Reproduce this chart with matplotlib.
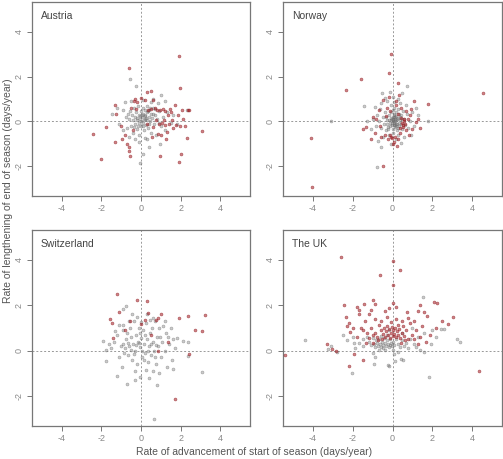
import matplotlib
matplotlib.use("Agg")
import matplotlib.pyplot as plt

plt.rcParams['font.family'] = ['Liberation Sans', 'DejaVu Sans']

panels = ["Austria", "Norway", "Switzerland", "The UK"]
x_ticks = [-4, -2, 0, 2, 4]
y_ticks = [-2, 0, 2, 4]

austria_gray = [(-0.55,1.9),(-0.23,1.56),(0.41,-1.14),(-0.07,-1.84),(0.08,-1.44),(-1.44,0.34),(-1.1,-0.1),(-0.9,0.5),(-0.75,0.2),(-0.7,-0.3),(-0.6,0.1),(-0.55,0.45),(-0.5,-0.2),(-0.45,0.3),(-0.4,0.05),(-0.38,-0.5),(-0.35,0.6),(-0.3,0.2),(-0.28,-0.1),(-0.25,0.4),(-0.2,-0.35),(-0.18,0.15),(-0.15,0.7),(-0.12,-0.05),(-0.1,0.3),(-0.08,-0.6),(-0.05,0.1),(0.0,0.45),(0.02,-0.2),(0.05,0.2),(0.08,0.6),(0.1,-0.05),(0.12,0.35),(0.15,-0.4),(0.18,0.1),(0.2,0.5),(0.22,0.25),(0.25,-0.15),(0.28,0.4),(0.3,0.05),(0.32,0.7),(0.35,-0.3),(0.38,0.2),(0.4,0.5),(0.45,0.0),(0.48,0.35),(0.5,-0.5),(0.55,0.15),(0.6,0.6),(0.65,-0.1),(0.7,0.3),(0.75,-0.6),(0.8,0.1),(0.9,0.45),(1.0,-0.2),(1.1,0.2),(1.2,-0.4),(1.3,0.4),(1.5,-0.05),(1.0,1.2),(0.6,1.0),(-0.3,-0.8),(-0.6,-0.7),(0.2,-0.75),(0.3,-0.8),(-0.1,-0.9),(0.95,-1.0),(-0.9,-0.4),(-1.2,0.6),(-0.8,0.85),(-0.5,0.9),(0.1,0.95),(0.5,0.85),(0.85,0.8),(1.2,0.9),(0.15,0.05),(0.05,0.3),(-0.05,0.25),(0.25,0.15),(0.35,0.45),(-0.2,0.05),(0.1,-0.2),(0.4,-0.1),(0.6,0.35),(-0.35,-0.25),(0.7,0.55),(-0.65,0.35),(0.9,-0.05),(1.6,0.3),(1.8,-0.1),(2.3,0.5),(0.0,0.0),(0.2,0.3),(-0.15,-0.2),(0.45,0.6)]
austria_red = [(1.92,2.93),(-0.6,2.4),(1.98,1.5),(-2.4,-0.55),(-2.0,-1.67),(1.9,-1.82),(2.03,-1.47),(3.06,-0.44),(2.3,-0.73),(2.35,0.5),(0.98,-1.53),(-0.61,-1.14),(-0.6,-1.32),(-0.55,-1.53),(-1.3,-0.9),(-1.77,-0.25),(-1.3,0.75),(-1.24,0.34),(-0.3,1.0),(-0.2,0.85),(0.0,1.05),(0.3,1.3),(0.5,1.35),(0.2,0.95),(0.7,0.6),(0.8,0.5),(0.95,0.5),(1.1,0.55),(1.2,0.45),(1.35,0.3),(1.5,0.4),(1.7,0.75),(1.85,0.3),(2.05,0.5),(2.2,-0.2),(2.1,0.1),(1.95,-0.2),(1.6,-0.3),(1.4,-0.1),(1.2,-0.15),(1.05,-0.05),(0.9,-0.1),(1.0,-0.6),(0.85,-0.55),(1.25,-0.8),(0.55,-0.7),(0.6,-0.25),(1.75,-0.15),(1.15,0.05),(0.5,0.55),(0.35,0.5),(-0.25,0.55),(-0.5,0.6),(-0.8,-0.6),(-1.0,-0.2),(-0.95,-0.8),(-0.4,-0.4),(-0.7,-1.0),(0.3,-0.1),(0.6,0.95),(-0.35,0.9),(1.45,0.55),(1.3,-0.45),(2.4,0.5),(1.55,0.05),(0.75,0.05)]

norway_gray = [(-3.09,0),(-0.8,-2.03),(1.76,0),(0.72,1.59),(-0.57,-1.14),(-1.45,0.67),(0.0,0.0),(0.05,0.1),(0.1,-0.05),(0.15,0.2),(-0.05,-0.15),(0.2,0.05),(0.08,0.3),(-0.1,0.15),(0.12,-0.25),(0.25,-0.1),(-0.15,-0.05),(0.3,0.15),(0.02,-0.35),(-0.2,0.3),(0.18,0.4),(0.35,-0.2),(-0.25,-0.25),(0.4,0.05),(0.05,0.5),(-0.3,0.05),(0.22,-0.4),(0.45,0.3),(-0.35,-0.4),(0.1,0.6),(-0.4,0.4),(0.5,-0.35),(0.28,0.55),(-0.45,-0.1),(0.6,0.1),(-0.5,0.2),(0.0,-0.5),(0.55,0.45),(-0.6,-0.3),(0.65,-0.15),(-0.1,0.75),(0.3,-0.6),(-0.65,0.55),(0.75,0.35),(-0.7,0.0),(0.8,-0.3),(-0.2,-0.6),(0.1,0.85),(-0.8,0.3),(0.9,0.0),(-0.85,-0.2),(0.4,0.8),(-0.3,0.9),(0.2,-0.8),(-0.5,-0.7),(0.6,-0.7),(1.0,0.4),(-1.0,0.1),(0.05,1.1),(-0.4,1.05),(0.3,1.0),(-0.6,0.8),(0.7,0.75),(-0.9,0.65),(1.1,-0.2),(-1.1,-0.35),(0.5,1.25),(-0.15,1.3),(-0.55,1.25),(0.45,-0.95),(-0.1,-1.0),(0.15,-0.15),(0.07,0.22),(-0.07,0.05),(0.2,0.25),(0.12,0.12),(-0.02,-0.08),(0.25,0.1),(0.03,0.18),(-0.12,-0.2),(0.32,-0.05),(0.17,-0.1),(0.08,-0.18),(-0.18,0.08),(0.38,0.22),(0.1,0.35),(-0.08,0.4),(0.28,-0.28),(-0.28,-0.12),(0.42,-0.12),(1.3,0.3),(-1.3,0.0),(0.95,-0.6),(-0.75,-0.85),(1.2,0.6),(0.0,0.05),(0.14,0.02),(0.06,-0.02),(0.2,-0.2),(-0.04,0.12),(0.35,0.35),(-0.22,-0.35),(0.48,0.12),(-0.32,0.2)]
norway_red = [(4.55,1.27),(-4.11,-0.73),(-4.02,-2.92),(-2.33,1.38),(-1.6,1.88),(-0.1,2.99),(-0.2,2.15),(-0.5,-2.0),(1.76,0.76),(0.28,1.72),(-1.33,-0.25),(-1.46,-0.33),(1.1,0.9),(1.17,-0.04),(1.37,-0.3),(0.16,0.89),(0.5,-0.05),(0.55,-0.15),(0.6,0.0),(0.52,-0.25),(0.65,-0.1),(0.45,0.15),(0.58,0.1),(0.7,-0.4),(0.4,-0.5),(0.3,-0.8),(0.15,-0.7),(-0.1,-0.7),(-0.15,-0.6),(-0.25,-0.8),(-0.05,-0.75),(0.1,-0.9),(0.05,-1.0),(-0.4,-0.6),(-0.6,-0.7),(-0.9,-0.5),(-1.1,-0.8),(-1.0,0.2),(-0.7,0.5),(-0.5,0.95),(-0.3,0.6),(0.2,0.75),(0.45,0.6),(0.7,0.45),(0.9,0.3),(1.0,-0.35),(0.85,-0.6),(0.8,0.1),(0.35,1.2),(-0.2,1.1),(0.25,-1.1),(-0.65,-0.2),(-0.85,0.1),(0.95,0.55),(0.3,0.35),(-0.35,0.25),(0.4,-0.3),(-0.15,0.45),(1.3,0.1)]

switzerland_gray = [(-1.9,0.44),(-1.78,0.01),(-1.78,-0.47),(-1.2,-1.1),(-0.7,-1.47),(0.65,-3.0),(0.82,-1.5),(3.08,-0.94),(2.37,-0.25),(2.37,0.38),(2.1,0.41),(1.58,-0.43),(1.6,-0.79),(0.6,-0.88),(0.4,-1.22),(-0.03,-1.18),(-0.28,-1.28),(-0.78,1.96),(-0.92,1.85),(-1.33,0.87),(-0.92,1.15),(-1.13,1.15),(-1.0,0.2),(-0.9,0.3),(-0.8,0.1),(-0.75,0.5),(-0.7,0.8),(-0.65,-0.2),(-0.6,0.2),(-0.55,1.0),(-0.5,0.6),(-0.45,-0.4),(-0.4,0.3),(-0.35,1.3),(-0.3,0.0),(-0.25,0.7),(-0.2,-0.6),(-0.15,0.4),(-0.1,1.0),(-0.05,0.15),(0.0,0.55),(0.05,-0.3),(0.1,0.9),(0.15,0.3),(0.2,-0.1),(0.25,1.2),(0.3,0.5),(0.35,-0.5),(0.4,0.2),(0.45,0.8),(0.5,-0.2),(0.55,1.0),(0.6,0.4),(0.65,0.0),(0.7,1.3),(0.75,-0.6),(0.8,0.6),(0.85,0.2),(0.9,1.0),(1.0,-0.3),(1.05,0.4),(1.1,1.1),(1.2,0.0),(1.25,0.8),(1.3,-0.7),(1.4,0.3),(1.5,1.0),(1.6,0.5),(1.7,0.1),(1.8,0.55),(-1.2,0.7),(-1.35,0.4),(-1.5,0.1),(-1.1,-0.3),(-0.95,-0.7),(-0.3,-0.9),(0.25,-0.85),(0.9,-1.0),(-0.45,1.6),(-0.2,1.5),(0.3,1.6),(0.6,1.45),(1.2,1.3),(-1.6,0.3),(-0.5,0.05),(-0.1,0.35),(0.2,0.7),(0.5,0.3),(-0.35,-0.15),(0.05,0.0),(0.35,0.0),(-0.65,0.35),(0.75,0.25),(-0.85,-0.1),(0.15,-0.4),(-0.05,0.8),(0.95,0.6),(1.35,0.6),(-0.6,1.3),(-0.25,0.25),(0.45,1.35),(0.0,1.25),(0.7,-0.3),(-0.9,0.9)]
switzerland_red = [(-1.22,2.5),(-0.22,2.24),(0.28,2.2),(-1.13,1.71),(-1.57,1.38),(-1.47,1.24),(0.35,1.65),(1.0,1.6),(1.93,1.46),(2.37,1.53),(3.25,1.56),(2.73,0.93),(3.07,0.88),(2.42,-0.15),(1.73,-2.12),(0.88,1.44),(0.78,1.35),(0.22,1.35),(-0.02,1.18),(-0.53,1.29),(-0.82,0.93),(-1.42,0.56),(1.37,0.38),(0.88,-0.03),(0.52,0.7)]

uk_gray = [(-4.37,0.47),(-3.26,0.07),(-2.77,-0.07),(-2.5,0.7),(-2.03,-1.0),(-1.93,0.34),(-0.94,-0.59),(-0.24,-0.62),(-0.18,-0.69),(0.12,-0.44),(0.45,-0.37),(0.52,-0.41),(1.85,-1.18),(1.56,-0.04),(1.51,2.37),(2.44,0.94),(2.18,0.59),(1.93,0.29),(3.26,0.51),(3.39,0.38),(-3.1,0.2),(-2.3,0.45),(-1.9,0.1),(-1.5,0.2),(-1.2,0.4),(-1.1,0.25),(-1.0,0.55),(-0.95,0.3),(-0.9,0.15),(-0.85,0.45),(-0.8,0.35),(-0.75,0.2),(-0.7,0.5),(-0.65,0.3),(-0.6,0.15),(-0.55,0.4),(-0.5,0.25),(-0.45,0.55),(-0.4,0.35),(-0.35,0.2),(-0.3,0.45),(-0.25,0.3),(-0.2,0.15),(-0.15,0.5),(-0.1,0.35),(-0.05,0.2),(0.0,0.4),(0.1,0.25),(0.2,0.5),(0.3,0.3),(0.4,0.15),(0.5,0.45),(0.6,0.2),(0.7,0.35),(0.9,0.5),(1.1,0.3),(1.3,0.6),(1.6,0.8),(-1.3,0.6),(-1.5,0.5),(-0.6,0.65),(-0.3,0.7),(-1.0,-0.1),(-0.4,0.05),(0.0,0.05),(0.3,-0.05),(0.8,0.1),(1.2,0.15),(-0.7,0.05),(-1.7,0.35),(2.0,0.9),(1.0,1.0),(0.5,0.8),(-0.2,0.9),(-2.0,0.6),(-0.9,-0.3),(0.1,-0.15),(-0.5,0.1),(-0.15,0.25),(2.6,0.95),(1.4,0.05)]
uk_red = [(-2.6,4.12),(0.03,3.94),(0.39,3.56),(-0.64,3.35),(0.0,2.91),(-5.38,-0.2),(4.32,-0.88),(-2.44,2.0),(-2.32,1.47),(-2.18,1.24),(-2.15,0.82),(-3.31,0.29),(-3.03,0.09),(-2.82,-0.03),(-2.18,-0.69),(-1.92,-0.15),(-1.46,-0.41),(-1.76,1.91),(-1.45,2.06),(-1.0,2.25),(-0.89,2.07),(-1.68,1.81),(1.38,2.01),(2.1,2.16),(2.24,2.12),(3.06,1.5),(2.81,1.18),(1.75,1.53),(1.26,1.76),(0.74,1.7),(0.18,1.91),(0.0,2.12),(-0.2,1.88),(-0.6,0.9),(-0.5,0.75),(-0.45,1.0),(-0.4,0.6),(-0.35,0.85),(-0.3,1.1),(-0.25,0.7),(-0.2,0.95),(-0.15,0.55),(-0.1,0.8),(-0.05,1.05),(0.0,0.65),(0.05,0.9),(0.1,0.75),(0.15,1.0),(0.2,0.6),(0.25,0.85),(0.3,0.7),(0.35,0.95),(0.4,0.55),(0.5,0.8),(0.55,1.1),(0.6,0.65),(0.7,0.9),(0.8,0.5),(0.9,1.2),(1.0,0.7),(1.1,0.5),(1.2,0.9),(1.4,0.6),(1.5,1.1),(1.7,0.4),(1.9,0.7),(2.2,1.0),(-0.8,0.6),(-0.9,0.8),(-1.0,0.7),(-1.1,1.0),(-1.2,0.55),(-1.3,0.8),(-1.4,1.3),(-1.5,0.9),(-1.6,1.0),(-1.7,1.6),(-1.2,1.6),(-0.9,1.4),(-0.6,1.3),(-0.3,1.5),(0.2,1.4),(0.5,1.3),(0.8,1.45),(1.1,1.3),(-2.0,1.0),(-1.8,0.6),(-1.35,0.35),(-1.0,0.35),(-0.7,1.15),(-0.1,1.25),(0.3,1.15),(-0.55,0.5),(0.45,0.35),(1.3,0.3),(2.5,1.3),(1.6,1.7),(-1.1,1.8),(-0.4,1.75),(-2.3,1.1),(-0.75,0.45),(0.65,0.45)]

gray_sets = [austria_gray, norway_gray, switzerland_gray, uk_gray]
red_sets = [austria_red, norway_red, switzerland_red, uk_red]

W, H = 503, 459
fig = plt.figure(figsize=(W/100, H/100), dpi=100)
boxes = [(32, 2, 250, 196), (283, 2, 502, 196), (32, 230, 250, 426), (283, 230, 502, 426)]

axis_col = '#777777'
for i, (name, box) in enumerate(zip(panels, boxes)):
    l, t, r, b = box
    ax = fig.add_axes([l/W, 1-b/H, (r-l)/W, (b-t)/H])
    ax.set_xlim(-5.5, 5.5)
    ax.set_ylim(-3.32, 5.32)
    ax.axhline(0, color='#999999', lw=0.7, ls=(0, (2, 2)), zorder=1)
    ax.axvline(0, color='#999999', lw=0.7, ls=(0, (2, 2)), zorder=1)
    g = gray_sets[i]
    rd = red_sets[i]
    ax.scatter([p[0] for p in g], [p[1] for p in g], s=4.5, facecolor=(0.5, 0.5, 0.5, 0.4),
               edgecolor=(0.4, 0.4, 0.4, 0.55), linewidths=0.4, zorder=2)
    ax.scatter([p[0] for p in rd], [p[1] for p in rd], s=4.5, facecolor=(0.65, 0.12, 0.15, 0.55),
               edgecolor=(0.55, 0.1, 0.12, 0.65), linewidths=0.4, zorder=3)
    ax.set_xticks(x_ticks)
    ax.set_yticks(y_ticks)
    ax.set_xticklabels([str(v) for v in x_ticks])
    ax.set_yticklabels([str(v) for v in y_ticks], rotation=90, va='center')
    ax.tick_params(direction='out', length=3.5, width=0.7, colors=axis_col, labelsize=6.5,
                   labelcolor='#888888', pad=2.5)
    for s in ax.spines.values():
        s.set_color(axis_col)
        s.set_linewidth(0.9)
    ax.text(0.04, 0.93, name, transform=ax.transAxes, fontsize=7.5, color='#444444',
            va='center', ha='left')

fig.text(8/W, 1-191/H, "Rate of lengthening of end of season (days/year)", rotation=90,
         ha='center', va='center', fontsize=7.5, color='#555555')
fig.text(254/W, 1-452/H, "Rate of advancement of start of season (days/year)",
         ha='center', va='center', fontsize=7.5, color='#555555')

fig.savefig("out.png", dpi=100)
